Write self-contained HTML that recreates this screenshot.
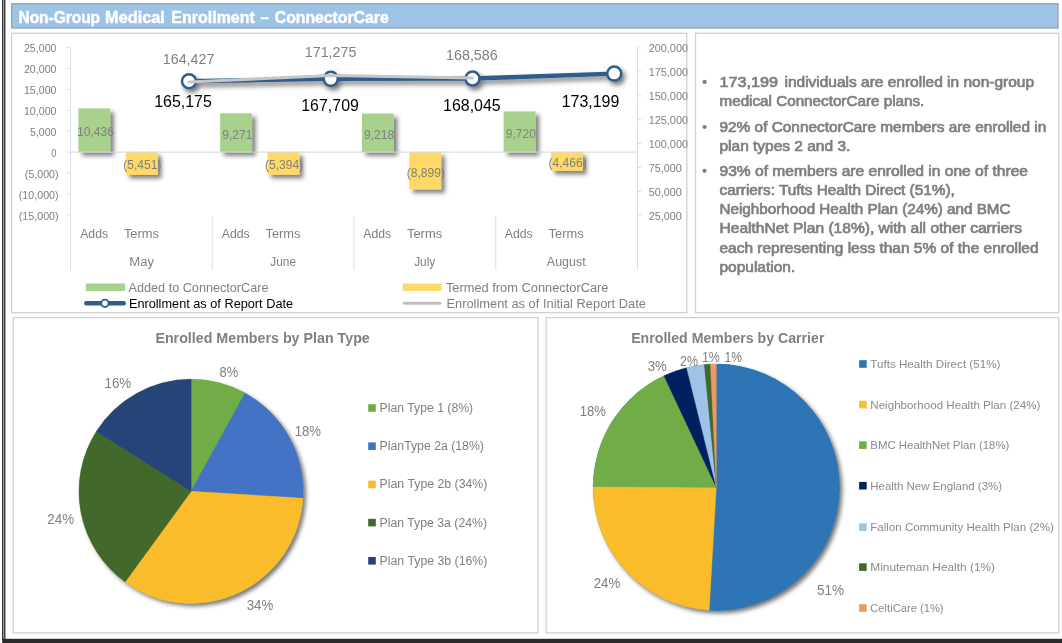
<!DOCTYPE html>
<html lang="en"><head><meta charset="utf-8"><title>Non-Group Medical Enrollment – ConnectorCare</title>
<style>
html,body{margin:0;padding:0;background:#fff;}
body{width:1062px;height:643px;overflow:hidden;}
svg{display:block;font-family:"Liberation Sans", sans-serif;}
</style></head><body>
<svg width="1062" height="643" viewBox="0 0 1062 643">
<defs>
<filter id="sh" x="-30%" y="-30%" width="180%" height="180%"><feDropShadow dx="3.6" dy="3.6" stdDeviation="2" flood-color="#000" flood-opacity="0.5"/></filter>
<filter id="shl" x="-10%" y="-200%" width="120%" height="500%"><feDropShadow dx="2.6" dy="3.4" stdDeviation="2.4" flood-color="#000" flood-opacity="0.55"/></filter>
<filter id="shp" x="-10%" y="-10%" width="125%" height="125%"><feDropShadow dx="2.8" dy="2.8" stdDeviation="2.3" flood-color="#000" flood-opacity="0.55"/></filter>
<clipPath id="c1"><rect x="12" y="35" width="675.8" height="277"/></clipPath>
</defs>
<rect width="1062" height="643" fill="#fff"/>

<rect x="2.2" y="0" width="1.2" height="640" fill="#000"/>
<rect x="4.25" y="0" width="1.1" height="640" fill="#000"/>
<rect x="2.2" y="638.8" width="1060" height="4.2" fill="#2b2b2b"/>
<rect x="11.7" y="3.7" width="1046.3" height="24.3" fill="#9dc3e6" stroke="#8e9fb5" stroke-width="1.25"/>
<text y="22.60" font-size="17.3" fill="#fff" font-weight="bold" stroke="#fff" stroke-width="0.5"><tspan x="18.50" textLength="81.51" lengthAdjust="spacingAndGlyphs">Non-Group</tspan> <tspan x="105.10" textLength="59.70" lengthAdjust="spacingAndGlyphs">Medical</tspan> <tspan x="171.30" textLength="83.59" lengthAdjust="spacingAndGlyphs">Enrollment</tspan> <tspan x="260.60" textLength="8.30" lengthAdjust="spacingAndGlyphs">–</tspan> <tspan x="274.80" textLength="113.89" lengthAdjust="spacingAndGlyphs">ConnectorCare</tspan></text>
<rect x="11.6" y="33.3" width="675.1999999999999" height="279.4" fill="#fff" stroke="#d0d0d0" stroke-width="1.3"/>
<rect x="695.5" y="33.3" width="363.20000000000005" height="279.4" fill="#fff" stroke="#d0d0d0" stroke-width="1.3"/>
<rect x="13.2" y="317.6" width="524.8" height="315.29999999999995" fill="#fff" stroke="#d0d0d0" stroke-width="1.3"/>
<rect x="546.2" y="317.6" width="512.5" height="315.29999999999995" fill="#fff" stroke="#d0d0d0" stroke-width="1.3"/>
<g stroke="#dcdfe5" stroke-width="1" fill="none">
<path d="M70.5 47.5V270"/>
<path d="M66.5 47.50H70.5"/>
<path d="M66.5 68.43H70.5"/>
<path d="M66.5 89.36H70.5"/>
<path d="M66.5 110.29H70.5"/>
<path d="M66.5 131.22H70.5"/>
<path d="M66.5 152.15H70.5"/>
<path d="M66.5 173.08H70.5"/>
<path d="M66.5 194.01H70.5"/>
<path d="M66.5 214.94H70.5"/>
<path d="M637.5 47.5V270"/>
<path d="M637.5 48.00H641.5"/>
<path d="M637.5 71.90H641.5"/>
<path d="M637.5 95.80H641.5"/>
<path d="M637.5 119.70H641.5"/>
<path d="M637.5 143.60H641.5"/>
<path d="M637.5 167.50H641.5"/>
<path d="M637.5 191.40H641.5"/>
<path d="M637.5 215.30H641.5"/>
<path d="M212.25 216V270"/>
<path d="M354.00 216V270"/>
<path d="M495.75 216V270"/>
</g>
<text x="23.92" y="52.10" font-size="10.5" fill="#7f7f7f" font-weight="normal" textLength="32.58" lengthAdjust="spacingAndGlyphs">25,000</text>
<text x="23.92" y="73.03" font-size="10.5" fill="#7f7f7f" font-weight="normal" textLength="32.58" lengthAdjust="spacingAndGlyphs">20,000</text>
<text x="23.92" y="93.96" font-size="10.5" fill="#7f7f7f" font-weight="normal" textLength="32.58" lengthAdjust="spacingAndGlyphs">15,000</text>
<text x="23.92" y="114.89" font-size="10.5" fill="#7f7f7f" font-weight="normal" textLength="32.58" lengthAdjust="spacingAndGlyphs">10,000</text>
<text x="30.00" y="135.82" font-size="10.5" fill="#7f7f7f" font-weight="normal" textLength="26.50" lengthAdjust="spacingAndGlyphs">5,000</text>
<text x="51.26" y="156.75" font-size="10.5" fill="#7f7f7f" font-weight="normal" textLength="5.25" lengthAdjust="spacingAndGlyphs">0</text>
<text x="24.83" y="177.68" font-size="10.5" fill="#7f7f7f" font-weight="normal" textLength="33.77" lengthAdjust="spacingAndGlyphs">(5,000)</text>
<text x="18.75" y="198.61" font-size="10.5" fill="#7f7f7f" font-weight="normal" textLength="39.85" lengthAdjust="spacingAndGlyphs">(10,000)</text>
<text x="18.75" y="219.54" font-size="10.5" fill="#7f7f7f" font-weight="normal" textLength="39.85" lengthAdjust="spacingAndGlyphs">(15,000)</text>
<g clip-path="url(#c1)">
<text x="648.70" y="52.30" font-size="10.6" fill="#7f7f7f" font-weight="normal" textLength="39.31" lengthAdjust="spacingAndGlyphs">200,000</text>
<text x="648.70" y="76.20" font-size="10.6" fill="#7f7f7f" font-weight="normal" textLength="39.31" lengthAdjust="spacingAndGlyphs">175,000</text>
<text x="648.70" y="100.10" font-size="10.6" fill="#7f7f7f" font-weight="normal" textLength="39.31" lengthAdjust="spacingAndGlyphs">150,000</text>
<text x="648.70" y="124.00" font-size="10.6" fill="#7f7f7f" font-weight="normal" textLength="39.31" lengthAdjust="spacingAndGlyphs">125,000</text>
<text x="648.70" y="147.90" font-size="10.6" fill="#7f7f7f" font-weight="normal" textLength="39.31" lengthAdjust="spacingAndGlyphs">100,000</text>
<text x="648.70" y="171.80" font-size="10.6" fill="#7f7f7f" font-weight="normal" textLength="33.12" lengthAdjust="spacingAndGlyphs">75,000</text>
<text x="648.70" y="195.70" font-size="10.6" fill="#7f7f7f" font-weight="normal" textLength="33.12" lengthAdjust="spacingAndGlyphs">50,000</text>
<text x="648.70" y="219.60" font-size="10.6" fill="#7f7f7f" font-weight="normal" textLength="33.12" lengthAdjust="spacingAndGlyphs">25,000</text>
</g>
<g filter="url(#sh)">
<rect x="78.40" y="108.41" width="31.9" height="43.69" fill="#a9d18e"/>
<rect x="125.80" y="152.10" width="31.9" height="22.82" fill="#ffd966"/>
<rect x="220.15" y="113.29" width="31.9" height="38.81" fill="#a9d18e"/>
<rect x="267.55" y="152.10" width="31.9" height="22.58" fill="#ffd966"/>
<rect x="361.90" y="113.51" width="31.9" height="38.59" fill="#a9d18e"/>
<rect x="409.30" y="152.10" width="31.9" height="37.25" fill="#ffd966"/>
<rect x="503.65" y="111.41" width="31.9" height="40.69" fill="#a9d18e"/>
<rect x="551.05" y="152.10" width="31.9" height="18.69" fill="#ffd966"/>
</g>
<path d="M70.5 152.1H637.5" stroke="#d6d6d6" stroke-width="1"/>
<text x="77.09" y="136.11" font-size="11.9" fill="#7f7f7f" font-weight="normal" textLength="36.92" lengthAdjust="spacingAndGlyphs">10,436</text>
<text x="123.21" y="169.36" font-size="11.9" fill="#7f7f7f" font-weight="normal" textLength="38.28" lengthAdjust="spacingAndGlyphs">(5,451)</text>
<text x="222.29" y="138.55" font-size="11.9" fill="#7f7f7f" font-weight="normal" textLength="30.03" lengthAdjust="spacingAndGlyphs">9,271</text>
<text x="264.96" y="169.24" font-size="11.9" fill="#7f7f7f" font-weight="normal" textLength="38.28" lengthAdjust="spacingAndGlyphs">(5,394)</text>
<text x="364.04" y="138.66" font-size="11.9" fill="#7f7f7f" font-weight="normal" textLength="30.03" lengthAdjust="spacingAndGlyphs">9,218</text>
<text x="406.71" y="176.58" font-size="11.9" fill="#7f7f7f" font-weight="normal" textLength="38.28" lengthAdjust="spacingAndGlyphs">(8,899)</text>
<text x="505.79" y="137.61" font-size="11.9" fill="#7f7f7f" font-weight="normal" textLength="30.03" lengthAdjust="spacingAndGlyphs">9,720</text>
<text x="548.46" y="167.30" font-size="11.9" fill="#7f7f7f" font-weight="normal" textLength="38.28" lengthAdjust="spacingAndGlyphs">(4,466)</text>
<g filter="url(#shl)">
<polyline points="189.00,81.29 330.75,78.87 472.50,78.55 614.25,73.62" fill="none" stroke="#2e5d8c" stroke-width="4.4" stroke-linejoin="round"/>
<circle cx="189.00" cy="81.29" r="7" fill="#fff" stroke="#2e5d8c" stroke-width="2.5"/>
<circle cx="330.75" cy="78.87" r="7" fill="#fff" stroke="#2e5d8c" stroke-width="2.5"/>
<circle cx="472.50" cy="78.55" r="7" fill="#fff" stroke="#2e5d8c" stroke-width="2.5"/>
<circle cx="614.25" cy="73.62" r="7" fill="#fff" stroke="#2e5d8c" stroke-width="2.5"/>
</g>
<polyline points="189.00,82.01 330.75,75.46 472.50,78.03" fill="none" stroke="#c6c6c6" stroke-width="3" stroke-linejoin="round" stroke-linecap="round"/>
<text x="162.82" y="63.60" font-size="14.3" fill="#7f7f7f" font-weight="normal" textLength="51.55" lengthAdjust="spacingAndGlyphs">164,427</text>
<text x="304.82" y="57.30" font-size="14.3" fill="#7f7f7f" font-weight="normal" textLength="51.55" lengthAdjust="spacingAndGlyphs">171,275</text>
<text x="446.12" y="59.50" font-size="14.3" fill="#7f7f7f" font-weight="normal" textLength="51.55" lengthAdjust="spacingAndGlyphs">168,586</text>
<text x="154.16" y="106.50" font-size="15.7" fill="#000" font-weight="normal" textLength="57.67" lengthAdjust="spacingAndGlyphs">165,175</text>
<text x="301.26" y="111.00" font-size="15.7" fill="#000" font-weight="normal" textLength="57.67" lengthAdjust="spacingAndGlyphs">167,709</text>
<text x="443.06" y="110.80" font-size="15.7" fill="#000" font-weight="normal" textLength="57.67" lengthAdjust="spacingAndGlyphs">168,045</text>
<text x="561.66" y="106.50" font-size="15.7" fill="#000" font-weight="normal" textLength="57.67" lengthAdjust="spacingAndGlyphs">173,199</text>
<text x="80.20" y="238.10" font-size="12.3" fill="#7f7f7f" font-weight="normal" textLength="27.90" lengthAdjust="spacingAndGlyphs">Adds</text>
<text x="123.90" y="238.10" font-size="12.3" fill="#7f7f7f" font-weight="normal" textLength="35.10" lengthAdjust="spacingAndGlyphs">Terms</text>
<text x="129.30" y="266.10" font-size="12.3" fill="#7f7f7f" font-weight="normal" textLength="24.60" lengthAdjust="spacingAndGlyphs">May</text>
<text x="221.75" y="238.10" font-size="12.3" fill="#7f7f7f" font-weight="normal" textLength="27.90" lengthAdjust="spacingAndGlyphs">Adds</text>
<text x="265.45" y="238.10" font-size="12.3" fill="#7f7f7f" font-weight="normal" textLength="35.10" lengthAdjust="spacingAndGlyphs">Terms</text>
<text x="270.35" y="266.10" font-size="12.3" fill="#7f7f7f" font-weight="normal" textLength="25.61" lengthAdjust="spacingAndGlyphs">June</text>
<text x="363.30" y="238.10" font-size="12.3" fill="#7f7f7f" font-weight="normal" textLength="27.90" lengthAdjust="spacingAndGlyphs">Adds</text>
<text x="407.00" y="238.10" font-size="12.3" fill="#7f7f7f" font-weight="normal" textLength="35.10" lengthAdjust="spacingAndGlyphs">Terms</text>
<text x="414.20" y="266.10" font-size="12.3" fill="#7f7f7f" font-weight="normal" textLength="21.00" lengthAdjust="spacingAndGlyphs">July</text>
<text x="504.85" y="238.10" font-size="12.3" fill="#7f7f7f" font-weight="normal" textLength="27.90" lengthAdjust="spacingAndGlyphs">Adds</text>
<text x="548.55" y="238.10" font-size="12.3" fill="#7f7f7f" font-weight="normal" textLength="35.10" lengthAdjust="spacingAndGlyphs">Terms</text>
<text x="546.85" y="266.10" font-size="12.3" fill="#7f7f7f" font-weight="normal" textLength="38.80" lengthAdjust="spacingAndGlyphs">August</text>
<rect x="85.8" y="283.5" width="39.3" height="7.5" fill="#a9d18e"/>
<text x="128.60" y="291.80" font-size="12.1" fill="#7f7f7f" font-weight="normal" textLength="139.89" lengthAdjust="spacingAndGlyphs">Added to ConnectorCare</text>
<rect x="402.8" y="283.6" width="38.7" height="7.3" fill="#ffd966"/>
<text x="445.90" y="291.80" font-size="12.1" fill="#7f7f7f" font-weight="normal" textLength="162.61" lengthAdjust="spacingAndGlyphs">Termed from ConnectorCare</text>
<path d="M86.3 303.3H123.7" stroke="#2e5d8c" stroke-width="4.4" stroke-linecap="round"/>
<circle cx="104.9" cy="303.3" r="3.7" fill="#fff" stroke="#2e5d8c" stroke-width="1.9"/>
<text x="128.90" y="307.60" font-size="12.1" fill="#000" font-weight="normal" textLength="164.20" lengthAdjust="spacingAndGlyphs">Enrollment as of Report Date</text>
<path d="M404.3 303.2H440" stroke="#bfbfbf" stroke-width="3" stroke-linecap="round"/>
<text x="446.40" y="307.60" font-size="12.1" fill="#7f7f7f" font-weight="normal" textLength="199.51" lengthAdjust="spacingAndGlyphs">Enrollment as of Initial Report Date</text>
<text y="87.10" font-size="14.45" fill="#7f7f7f" font-weight="normal" stroke="#7f7f7f" stroke-width="0.7"><tspan x="719.50" textLength="58.50" lengthAdjust="spacingAndGlyphs">173,199</tspan> <tspan x="784.50" textLength="249.50" lengthAdjust="spacingAndGlyphs">individuals are enrolled in non-group</tspan></text>
<circle cx="704.6" cy="81.90" r="2.1" fill="#7f7f7f"/>
<text y="106.40" font-size="14.45" fill="#7f7f7f" font-weight="normal" stroke="#7f7f7f" stroke-width="0.7"><tspan x="719.50" textLength="204.80" lengthAdjust="spacingAndGlyphs">medical ConnectorCare plans.</tspan></text>
<text y="132.20" font-size="14.45" fill="#7f7f7f" font-weight="normal" stroke="#7f7f7f" stroke-width="0.7"><tspan x="719.50" textLength="326.70" lengthAdjust="spacingAndGlyphs">92% of ConnectorCare members are enrolled in</tspan></text>
<circle cx="704.6" cy="127.00" r="2.1" fill="#7f7f7f"/>
<text y="151.30" font-size="14.45" fill="#7f7f7f" font-weight="normal" stroke="#7f7f7f" stroke-width="0.7"><tspan x="719.50" textLength="130.80" lengthAdjust="spacingAndGlyphs">plan types 2 and 3.</tspan></text>
<text y="176.00" font-size="14.45" fill="#7f7f7f" font-weight="normal" stroke="#7f7f7f" stroke-width="0.7"><tspan x="719.50" textLength="308.50" lengthAdjust="spacingAndGlyphs">93% of members are enrolled in one of three</tspan></text>
<circle cx="704.6" cy="170.80" r="2.1" fill="#7f7f7f"/>
<text y="195.10" font-size="14.45" fill="#7f7f7f" font-weight="normal" stroke="#7f7f7f" stroke-width="0.7"><tspan x="719.50" textLength="235.31" lengthAdjust="spacingAndGlyphs">carriers: Tufts Health Direct (51%),</tspan></text>
<text y="214.30" font-size="14.45" fill="#7f7f7f" font-weight="normal" stroke="#7f7f7f" stroke-width="0.7"><tspan x="719.50" textLength="291.00" lengthAdjust="spacingAndGlyphs">Neighborhood Health Plan (24%) and BMC</tspan></text>
<text y="233.40" font-size="14.45" fill="#7f7f7f" font-weight="normal" stroke="#7f7f7f" stroke-width="0.7"><tspan x="719.50" textLength="302.50" lengthAdjust="spacingAndGlyphs">HealthNet Plan (18%), with all other carriers</tspan></text>
<text y="252.60" font-size="14.45" fill="#7f7f7f" font-weight="normal" stroke="#7f7f7f" stroke-width="0.7"><tspan x="719.50" textLength="319.09" lengthAdjust="spacingAndGlyphs">each representing less than 5% of the enrolled</tspan></text>
<text y="271.80" font-size="14.45" fill="#7f7f7f" font-weight="normal" stroke="#7f7f7f" stroke-width="0.7"><tspan x="719.50" textLength="75.70" lengthAdjust="spacingAndGlyphs">population.</tspan></text>
<g filter="url(#shp)">
<circle cx="191.1" cy="491.35" r="112.1" fill="#70ad47"/>
</g>
<path d="M191.1 491.35L191.10 379.25A112.1 112.1 0 0 1 245.10 393.12Z" fill="#70ad47" stroke="#70ad47" stroke-width="0.4"/>
<path d="M191.1 491.35L245.10 393.12A112.1 112.1 0 0 1 302.99 498.19Z" fill="#4472c4" stroke="#4472c4" stroke-width="0.4"/>
<path d="M191.1 491.35L302.99 498.19A112.1 112.1 0 0 1 125.05 581.93Z" fill="#fbbc2c" stroke="#fbbc2c" stroke-width="0.4"/>
<path d="M191.1 491.35L125.05 581.93A112.1 112.1 0 0 1 96.35 431.45Z" fill="#43682b" stroke="#43682b" stroke-width="0.4"/>
<path d="M191.1 491.35L96.35 431.45A112.1 112.1 0 0 1 191.10 379.25Z" fill="#264478" stroke="#264478" stroke-width="0.4"/>
<g filter="url(#shp)">
<circle cx="716.3" cy="487.3" r="123.2" fill="#2e75b6"/>
</g>
<path d="M716.3 487.3L716.30 364.10A123.2 123.2 0 1 1 709.21 610.30Z" fill="#2e75b6" stroke="#2e75b6" stroke-width="0.4"/>
<path d="M716.3 487.3L709.21 610.30A123.2 123.2 0 0 1 593.10 486.44Z" fill="#fbbc2c" stroke="#fbbc2c" stroke-width="0.4"/>
<path d="M716.3 487.3L593.10 486.44A123.2 123.2 0 0 1 664.04 375.73Z" fill="#70ad47" stroke="#70ad47" stroke-width="0.4"/>
<path d="M716.3 487.3L664.04 375.73A123.2 123.2 0 0 1 686.70 367.71Z" fill="#002060" stroke="#002060" stroke-width="0.4"/>
<path d="M716.3 487.3L686.70 367.71A123.2 123.2 0 0 1 704.43 364.67Z" fill="#9dc3e6" stroke="#9dc3e6" stroke-width="0.4"/>
<path d="M716.3 487.3L704.43 364.67A123.2 123.2 0 0 1 710.41 364.24Z" fill="#43682b" stroke="#43682b" stroke-width="0.4"/>
<path d="M716.3 487.3L710.41 364.24A123.2 123.2 0 0 1 716.30 364.10Z" fill="#ed9b5f" stroke="#ed9b5f" stroke-width="0.4"/>
<text x="155.40" y="343.20" font-size="14.5" fill="#808080" font-weight="bold" textLength="214.40" lengthAdjust="spacingAndGlyphs">Enrolled Members by Plan Type</text>
<text x="631.20" y="343.20" font-size="14.5" fill="#808080" font-weight="bold" textLength="193.21" lengthAdjust="spacingAndGlyphs">Enrolled Members by Carrier</text>
<text x="219.50" y="376.60" font-size="14.2" fill="#7f7f7f" font-weight="normal" textLength="18.80" lengthAdjust="spacingAndGlyphs">8%</text>
<text x="104.50" y="388.20" font-size="14.2" fill="#7f7f7f" font-weight="normal" textLength="26.71" lengthAdjust="spacingAndGlyphs">16%</text>
<text x="294.70" y="435.80" font-size="14.2" fill="#7f7f7f" font-weight="normal" textLength="26.31" lengthAdjust="spacingAndGlyphs">18%</text>
<text x="47.30" y="524.00" font-size="14.2" fill="#7f7f7f" font-weight="normal" textLength="26.81" lengthAdjust="spacingAndGlyphs">24%</text>
<text x="246.70" y="609.90" font-size="14.2" fill="#7f7f7f" font-weight="normal" textLength="26.51" lengthAdjust="spacingAndGlyphs">34%</text>
<text x="647.70" y="371.20" font-size="14.2" fill="#7f7f7f" font-weight="normal" textLength="19.10" lengthAdjust="spacingAndGlyphs">3%</text>
<text x="680.10" y="365.50" font-size="14.2" fill="#7f7f7f" font-weight="normal" textLength="18.00" lengthAdjust="spacingAndGlyphs">2%</text>
<text x="701.90" y="361.80" font-size="14.2" fill="#7f7f7f" font-weight="normal" textLength="17.80" lengthAdjust="spacingAndGlyphs">1%</text>
<text x="724.60" y="361.80" font-size="14.2" fill="#7f7f7f" font-weight="normal" textLength="17.50" lengthAdjust="spacingAndGlyphs">1%</text>
<text x="579.80" y="416.00" font-size="14.2" fill="#7f7f7f" font-weight="normal" textLength="26.21" lengthAdjust="spacingAndGlyphs">18%</text>
<text x="593.70" y="587.80" font-size="14.2" fill="#7f7f7f" font-weight="normal" textLength="26.61" lengthAdjust="spacingAndGlyphs">24%</text>
<text x="816.90" y="594.90" font-size="14.2" fill="#7f7f7f" font-weight="normal" textLength="27.01" lengthAdjust="spacingAndGlyphs">51%</text>
<rect x="368.2" y="404.20" width="7.6" height="7.6" fill="#70ad47"/>
<text x="379.60" y="411.90" font-size="12" fill="#808080" font-weight="normal" textLength="93.60" lengthAdjust="spacingAndGlyphs">Plan Type 1 (8%)</text>
<rect x="368.2" y="442.40" width="7.6" height="7.6" fill="#4472c4"/>
<text x="379.60" y="450.10" font-size="12" fill="#808080" font-weight="normal" textLength="104.30" lengthAdjust="spacingAndGlyphs">PlanType 2a (18%)</text>
<rect x="368.2" y="480.60" width="7.6" height="7.6" fill="#fbbc2c"/>
<text x="379.60" y="488.30" font-size="12" fill="#808080" font-weight="normal" textLength="107.80" lengthAdjust="spacingAndGlyphs">Plan Type 2b (34%)</text>
<rect x="368.2" y="518.80" width="7.6" height="7.6" fill="#43682b"/>
<text x="379.60" y="526.50" font-size="12" fill="#808080" font-weight="normal" textLength="107.40" lengthAdjust="spacingAndGlyphs">Plan Type 3a (24%)</text>
<rect x="368.2" y="557.00" width="7.6" height="7.6" fill="#264478"/>
<text x="379.60" y="564.70" font-size="12" fill="#808080" font-weight="normal" textLength="107.80" lengthAdjust="spacingAndGlyphs">Plan Type 3b (16%)</text>
<rect x="859.1" y="360.20" width="7.6" height="7.6" fill="#2e75b6"/>
<text x="870.30" y="368.10" font-size="11.8" fill="#8a8a8a" font-weight="normal" textLength="130.09" lengthAdjust="spacingAndGlyphs">Tufts Health Direct (51%)</text>
<rect x="859.1" y="400.80" width="7.6" height="7.6" fill="#fbbc2c"/>
<text x="870.30" y="408.70" font-size="11.8" fill="#8a8a8a" font-weight="normal" textLength="170.10" lengthAdjust="spacingAndGlyphs">Neighborhood Health Plan (24%)</text>
<rect x="859.1" y="441.30" width="7.6" height="7.6" fill="#70ad47"/>
<text x="870.30" y="449.20" font-size="11.8" fill="#8a8a8a" font-weight="normal" textLength="139.11" lengthAdjust="spacingAndGlyphs">BMC HealthNet Plan (18%)</text>
<rect x="859.1" y="481.90" width="7.6" height="7.6" fill="#002060"/>
<text x="870.30" y="489.80" font-size="11.8" fill="#8a8a8a" font-weight="normal" textLength="131.70" lengthAdjust="spacingAndGlyphs">Health New England (3%)</text>
<rect x="859.1" y="523.30" width="7.6" height="7.6" fill="#9dc3e6"/>
<text x="870.30" y="531.20" font-size="11.8" fill="#8a8a8a" font-weight="normal" textLength="183.50" lengthAdjust="spacingAndGlyphs">Fallon Community Health Plan (2%)</text>
<rect x="859.1" y="563.30" width="7.6" height="7.6" fill="#43682b"/>
<text x="870.30" y="571.20" font-size="11.8" fill="#8a8a8a" font-weight="normal" textLength="124.71" lengthAdjust="spacingAndGlyphs">Minuteman Health (1%)</text>
<rect x="859.1" y="604.20" width="7.6" height="7.6" fill="#ed9b5f"/>
<text x="870.30" y="612.10" font-size="11.8" fill="#8a8a8a" font-weight="normal" textLength="73.30" lengthAdjust="spacingAndGlyphs">CeltiCare (1%)</text>
</svg></body></html>
